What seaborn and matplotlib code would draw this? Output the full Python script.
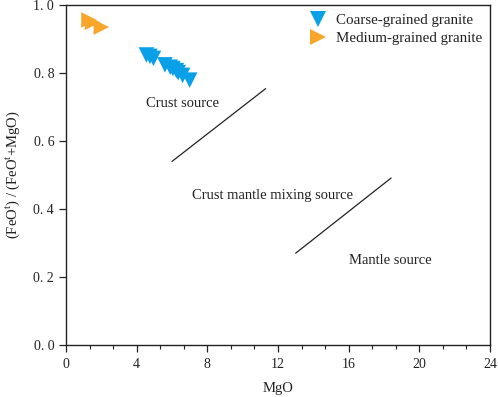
import matplotlib
matplotlib.use("Agg")
import matplotlib.pyplot as plt
import seaborn as sns
import pandas as pd
from matplotlib.ticker import MultipleLocator

sns.set_theme(style="white")
plt.rcParams['font.family'] = ['Liberation Serif', 'DejaVu Serif']
plt.rcParams['mathtext.fontset'] = 'custom'
plt.rcParams['mathtext.rm'] = 'Liberation Serif'

coarse_mgo = [4.55, 4.75, 4.95, 5.6, 5.9, 6.05, 6.25, 6.35, 6.6, 7.0]
coarse_ratio = [0.853, 0.849, 0.843, 0.824, 0.817, 0.813, 0.807, 0.801, 0.793, 0.779]
medium_mgo = [1.3, 1.5, 2.0]
medium_ratio = [0.956, 0.949, 0.935]

line1_x = [6.0, 11.3]
line1_y = [0.54, 0.754]
line2_x = [13.0, 18.4]
line2_y = [0.27, 0.491]

xticks = [0, 4, 8, 12, 16, 20, 24]
yticks = [0.0, 0.2, 0.4, 0.6, 0.8, 1.0]
ytick_labels = ["0. 0", "0. 2", "0. 4", "0. 6", "0. 8", "1. 0"]

df = pd.DataFrame({
    "MgO": coarse_mgo + medium_mgo,
    "ratio": coarse_ratio + medium_ratio,
    "type": ["Coarse-grained granite"] * len(coarse_mgo) + ["Medium-grained granite"] * len(medium_mgo),
})

fig = plt.figure(figsize=(4.98, 3.97), dpi=100)
ax = fig.add_axes([66/498, 1-345/397, (490-66)/498, (345-5)/397])

palette = {"Coarse-grained granite": "#0AA0E8", "Medium-grained granite": "#F8A62A"}
markers = {"Coarse-grained granite": "v", "Medium-grained granite": ">"}
sns.scatterplot(data=df, x="MgO", y="ratio", hue="type", style="type",
                palette=palette, markers=markers, s=125, linewidth=0,
                ax=ax, zorder=3)

ax.plot(line1_x, line1_y, color="#222222", lw=0.9)
ax.plot(line2_x, line2_y, color="#222222", lw=0.9)

ax.text(6.6, 0.71, "Crust source", ha="center", va="center", fontsize=10.5, color="#222222")
ax.text(11.7, 0.44, "Crust mantle mixing source", ha="center", va="center", fontsize=10.5, color="#222222")
ax.text(18.35, 0.25, "Mantle source", ha="center", va="center", fontsize=10.5, color="#222222")

ax.set_xlim(0, 24)
ax.set_ylim(0, 1.0)
ax.set_xticks(xticks)
ax.set_xticklabels([str(t) for t in xticks])
ax.xaxis.set_minor_locator(MultipleLocator(4/3))
ax.set_yticks(yticks)
ax.set_yticklabels(ytick_labels)
ax.tick_params(axis="both", which="major", direction="out", length=5, width=0.9,
               labelsize=10, colors="#222222", bottom=True, left=True)
ax.tick_params(axis="x", which="minor", direction="out", length=3, width=0.8,
               bottom=True, colors="#222222")
ax.tick_params(axis="x", pad=4)
for sp in ax.spines.values():
    sp.set_color("#222222")
    sp.set_linewidth(1.0)
    sp.set_visible(True)

ax.set_xlabel("MgO", fontsize=10.5, color="#222222", labelpad=8)
ax.set_ylabel(r"(FeO$^{\rm t}$) / (FeO$^{\rm t}$+MgO)", fontsize=10.5, color="#222222", labelpad=8)

leg = ax.legend(loc="upper right", frameon=False, fontsize=10.8, handletextpad=0.15,
                borderaxespad=0.15, labelspacing=0.3, markerscale=1.0)
for t in leg.get_texts():
    t.set_color("#222222")

fig.savefig("out.png", dpi=100)
